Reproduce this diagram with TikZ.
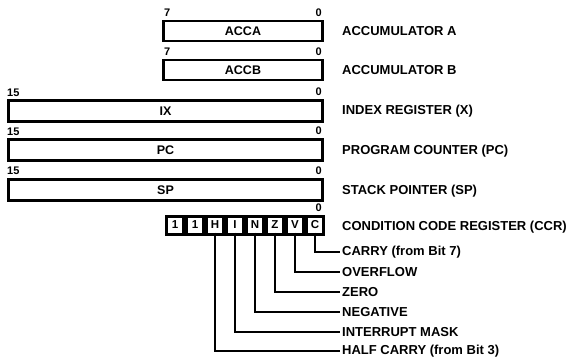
\documentclass[tikz,border=0pt]{standalone}
\usepackage{fontspec}
\setmainfont{Liberation Sans}
\begin{document}
\begin{tikzpicture}[x=1pt,y=-1pt,
  reg/.style={draw,line width=2.8pt,inner sep=0pt,font=\bfseries\fontsize{12.5}{14}\selectfont},
  bitno/.style={inner sep=0pt,font=\bfseries\fontsize{11}{12}\selectfont},
  lbl/.style={anchor=west,inner sep=0pt,font=\bfseries\fontsize{13}{15}\selectfont},
  cell/.style={fill=white,minimum width=14.5pt,minimum height=15pt,inner sep=0pt,font=\bfseries\fontsize{11.5}{12}\selectfont},
  lead/.style={line width=1.5pt}]
\useasboundingbox (0,0) rectangle (575,357);
% registers
\node[reg,minimum width=159.2pt,minimum height=20pt] (acca) at (243,31) {ACCA};
\node[reg,minimum width=159.2pt,minimum height=20pt] (accb) at (243,70) {ACCB};
\node[reg,minimum width=314.2pt,minimum height=21pt] (ix) at (165.5,111) {IX};
\node[reg,minimum width=314.2pt,minimum height=21pt] (pc) at (165.5,150) {PC};
\node[reg,minimum width=314.2pt,minimum height=21pt] (sp) at (165.5,190) {SP};
% bit numbers
\node[bitno,anchor=west] (a7) at (164,13) {7};
\node[bitno,anchor=east] (a0) at (322,13) {0};
\node[bitno,anchor=west] (b7) at (164,52) {7};
\node[bitno,anchor=east] (b0) at (322,52) {0};
\node[bitno,anchor=west] (x15) at (7,93) {15};
\node[bitno,anchor=east] (x0) at (322,92) {0};
\node[bitno,anchor=west] (p15) at (7,132) {15};
\node[bitno,anchor=east] (p0) at (322,131) {0};
\node[bitno,anchor=west] (s15) at (7,171) {15};
\node[bitno,anchor=east] (s0) at (322,171) {0};
\node[bitno,anchor=east] (c0) at (322,208) {0};
% CCR
\node[fill=black,minimum width=160pt,minimum height=21pt,inner sep=0pt] (ccr) at (245,225) {};
\foreach \t [count=\i] in {1,1,H,I,N,Z,V,C}{
  \node[cell] (c\i) at (155+20*\i,225) {\t};
}
% labels
\node[lbl] (la) at (342,31) {ACCUMULATOR A};
\node[lbl] (lb) at (342,70) {ACCUMULATOR B};
\node[lbl] (lx) at (342,111) {INDEX REGISTER (X)};
\node[lbl] (lp) at (342,151) {PROGRAM COUNTER (PC)};
\node[lbl] (ls) at (342,191) {STACK POINTER (SP)};
\node[lbl] (lc) at (342,227) {CONDITION CODE REGISTER (CCR)};
\node[lbl] (lcar) at (342,252) {CARRY (from Bit 7)};
\node[lbl] (lov) at (342,272) {OVERFLOW};
\node[lbl] (lz) at (342,292) {ZERO};
\node[lbl] (ln) at (342,312) {NEGATIVE};
\node[lbl] (li) at (342,332) {INTERRUPT MASK};
\node[lbl] (lh) at (342,351) {HALF CARRY (from Bit 3)};
% leads
\draw[lead] (c8.south) |- ([xshift=-2pt]lcar.west);
\draw[lead] (c7.south) |- ([xshift=-2pt]lov.west);
\draw[lead] (c6.south) |- ([xshift=-2pt]lz.west);
\draw[lead] (c5.south) |- ([xshift=-2pt]ln.west);
\draw[lead] (c4.south) |- ([xshift=-2pt]li.west);
\draw[lead] (c3.south) |- ([xshift=-2pt]lh.west);
\end{tikzpicture}
\end{document}
